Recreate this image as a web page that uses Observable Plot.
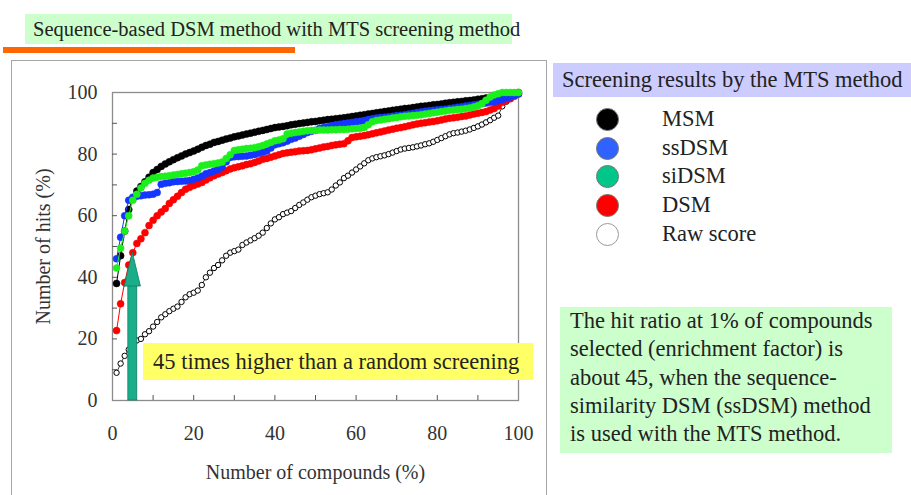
<!DOCTYPE html>
<html><head><meta charset="utf-8">
<script src="https://cdn.jsdelivr.net/npm/d3@7"></script>
<script src="https://cdn.jsdelivr.net/npm/@observablehq/plot@0.6"></script>
<style>
body{margin:0;background:#fff;font-family:'Liberation Serif','Tinos','Times New Roman','DejaVu Serif',serif;color:#222;}
#root{position:relative;width:911px;height:495px;overflow:hidden;background:#fff;}
.abs{position:absolute;}
#title{left:25px;top:14px;width:479px;height:30px;line-height:30px;background:#ccffcc;font-size:20.5px;padding-left:8px;white-space:nowrap;}
#bar{left:3px;top:47px;width:292px;height:6px;background:#ff6600;}
#frame{left:11px;top:60px;width:536px;height:450px;border:1.5px solid #a6a6a6;box-sizing:border-box;}
#chart{left:12px;top:61px;}
#note45{left:143px;top:343px;width:380px;height:37px;line-height:37px;background:#ffff66;font-size:22.5px;padding-left:10px;white-space:nowrap;}
#legHead{left:553px;top:63px;width:349px;height:34px;line-height:34px;background:#ccccff;font-size:22.5px;padding-left:9px;white-space:nowrap;}
#legend{left:590px;top:105px;}
.item{position:relative;height:28.7px;}
.sw{position:absolute;left:6px;top:3px;width:21px;height:21px;border-radius:50%;border:1px solid #777;}
.lab{position:absolute;left:72px;top:0;line-height:28px;font-size:22.5px;white-space:nowrap;}
#textbox{left:560px;top:307px;width:322px;height:146px;background:#ccffcc;font-size:22.5px;line-height:28.3px;padding-left:10px;white-space:nowrap;}
</style></head>
<body><div id="root">
<div id="title" class="abs">Sequence-based DSM method with MTS screening method</div>
<div id="bar" class="abs"></div>
<div id="frame" class="abs"></div>
<div id="chart" class="abs"></div>
<div id="note45" class="abs">45 times higher than a random screening</div>
<div id="legHead" class="abs">Screening results by the MTS method</div>
<div id="legend" class="abs"></div>
<div id="textbox" class="abs">The hit ratio at 1% of compounds<br>selected (enrichment factor) is<br>about 45, when the sequence-<br>similarity DSM (ssDSM) method<br>is used with the MTS method.</div>
</div>
<script>
// x: percentage of compounds selected
const compoundsPct = d3.range(1, 101);

const msm = [38,47,55,62,65.5,68,69.5,71,72.5,74,75,76,76.8,77.5,78.2,78.8,79.4,80,80.5,81,
81.6,82.2,82.8,83.2,83.8,84.1,84.5,84.9,85.2,85.6,85.9,86.2,86.5,86.8,87.1,87.4,87.7,88,88.3,88.6,
88.8,89,89.2,89.5,89.7,89.9,90.1,90.3,90.5,90.6,90.8,91,91.2,91.3,91.5,91.6,91.8,92,92.2,92.4,
92.6,92.8,93,93.2,93.4,93.6,93.8,94,94.2,94.4,94.6,94.8,94.9,95.1,95.3,95.5,95.6,95.8,96,96.1,
96.3,96.5,96.7,96.8,97,97.1,97.3,97.4,97.6,97.8,98,98.2,98.4,98.6,98.8,99,99.2,99.5,99.7,100];

const ssdsm = [46,53,60,65,66,66.3,66.5,66.7,66.8,67,67.5,70.2,70.5,70.7,71,71.1,71.2,71.3,71.4,71.8,
72.2,72.8,73.6,74,74.5,75,75.8,77.5,78.9,79.1,79.2,79.3,79.4,79.6,79.9,80.3,80.6,81,82,83,
83.4,83.7,84.2,84.8,85.2,85.8,86.4,87,87.4,87.7,88.3,88.6,88.9,89.2,89.5,89.7,89.9,90.1,90.3,90.5,
90.7,90.9,91.2,91.5,91.7,91.9,92,92.1,92.3,92.5,92.6,92.8,93,93.2,93.5,93.7,93.9,94.1,94.2,94.4,
94.5,94.6,94.8,95,95.2,95.4,95.6,95.8,96,96.2,96.4,96.6,96.8,97,97.3,97.7,98.1,98.5,99,99.6];

const sidsm = [43,49.5,55,60,65,67,69,70.5,71.5,72.2,72.5,72.7,72.8,73,73.2,73.4,73.6,73.8,74,74.3,
74.8,76.2,76.5,76.7,76.9,77.1,77.4,78.6,79.8,81.2,81.4,81.6,81.8,81.9,82.1,82.4,82.8,83.3,83.8,84.3,
84.6,85,86.5,86.8,87,87.2,87.4,87.6,87.7,87.7,87.8,87.8,87.8,87.9,87.9,88,88,88.1,88.2,88.3,
88.4,88.6,89.5,90.5,90.9,91.1,91.3,91.5,91.7,91.9,92.1,92.3,92.4,92.5,92.6,92.8,93,93.2,93.4,93.6,
93.8,94,94.2,94.3,94.5,94.6,94.8,95,95.3,95.7,96.4,97.5,98.5,99.2,99.6,100,100,100,100,100];

const dsm = [22.7,31.4,38.3,44,48,51,52.5,54.5,56.8,58.5,60,61.2,62.3,64,65.2,66.3,67.5,68.6,69.2,69.8,
70.3,70.8,71.6,72.3,73,73.5,74,74.6,75.2,75.6,75.9,76.2,76.6,76.9,77.3,77.8,78.3,78.6,79,79.4,
79.8,80.2,80.4,80.6,80.8,81,81.1,81.2,81.4,81.7,82,82.3,82.5,82.8,83,83.2,83.4,84.3,85.4,85.6,
85.8,86,86.3,86.6,86.9,87.2,87.5,87.8,88.1,88.4,88.6,88.9,89.2,89.5,89.8,90,90.2,90.4,90.6,90.8,
91.1,91.4,91.6,91.8,92,92.2,92.4,92.7,93,93.3,93.5,93.8,94.3,94.8,95.6,96.8,97.4,98,98.8,99.5];

const rawScore = [9,12,14.5,16.5,18.5,19.5,20,21.5,22.5,24,25.5,27,28,29,29.8,30.5,32,33.5,34.5,35,
35.7,37.5,40,41.5,43,44,45.5,47,48,48.5,49,50.5,51.3,52,52.7,53.5,54.5,56,57.5,58.8,
59.5,60.5,61,61.5,62.5,63.5,64.3,65.2,66,66.5,67,67.3,67.6,68.5,69.8,70.8,72.2,73,74,75,
76,77,78,78.6,79,79.3,79.6,80,80.5,81,81.5,81.8,82,82.2,82.5,82.8,83.2,83.5,84,84.6,
85.2,85.8,86.4,86.8,87,87.3,87.6,88,88.5,89,89.6,90.3,91,91.8,92.5,95.5,97,98,99,100];

const seriesNames = ["MSM","ssDSM","siDSM","DSM","Raw score"];
const dotColors = {"MSM":"#000000","ssDSM":"#1436ff","siDSM":"#1cf01c","DSM":"#ff0000","Raw score":"#ffffff"};
const legendColors = {"MSM":"#000000","ssDSM":"#2f62ff","siDSM":"#00c68a","DSM":"#ff0000","Raw score":"#ffffff"};
const xTicksMajor = [0,20,40,60,80,100];
const xTicksMinor = [10,20,30,40,50,60,70,80,90];
const yTicksMajor = [0,20,40,60,80,100];
const yTicksMinor = [10,20,30,40,50,60,70,80,90];

// annotation arrow (at 5% of compounds, reaching the ~48% hit level)
const arrowX = 5, arrowBase = 37, arrowTip = 48, shaftHalf = 1.1, headHalf = 2;

const valuesBy = {"MSM":msm,"ssDSM":ssdsm,"siDSM":sidsm,"DSM":dsm,"Raw score":rawScore};
const rows = [];
for (const s of seriesNames) valuesBy[s].forEach((v,i) => rows.push({series:s, x:compoundsPct[i], y:v}));
const drawOrder = ["Raw score","DSM","MSM","ssDSM","siDSM"];

const FONT = "'Liberation Serif','Tinos','Times New Roman','DejaVu Serif',serif";
const marks = [
  Plot.frame({stroke:"#8c8c8c", strokeWidth:1.3}),
  Plot.axisX({ticks:xTicksMinor, tickSize:-5, tickFormat:()=>"", label:null, stroke:"#555"}),
  Plot.axisY({ticks:yTicksMinor, tickSize:-5, tickFormat:()=>"", label:null, stroke:"#555"}),
  Plot.axisX({ticks:xTicksMajor, tickSize:0, tickPadding:25, label:"Number of compounds (%)", labelAnchor:"center", labelOffset:78, labelArrow:"none"}),
  Plot.axisY({ticks:yTicksMajor, tickSize:0, tickPadding:15, label:"Number of hits (%)", labelAnchor:"center", labelOffset:77, labelArrow:"none"})
];
for (const s of drawOrder) {
  const d = rows.filter(r => r.series === s);
  if (s === "Raw score") {
    marks.push(Plot.line(d, {x:"x", y:"y", stroke:"#000", strokeWidth:0.8}));
    marks.push(Plot.dot(d, {x:"x", y:"y", r:2.7, fill:"#fff", stroke:"#000", strokeWidth:1}));
  } else {
    marks.push(Plot.line(d, {x:"x", y:"y", stroke:dotColors[s], strokeWidth:1}));
    marks.push(Plot.dot(d, {x:"x", y:"y", r:3.5, fill:dotColors[s], stroke:dotColors[s], strokeWidth:0.5}));
  }
}
// block arrow: shaft + head
marks.push(Plot.rect([{x:arrowX}], {x1:d=>d.x-shaftHalf, x2:d=>d.x+shaftHalf, y1:0, y2:arrowBase+0.5, fill:"#1aad8a", stroke:"#0f7c62", strokeWidth:0.8}));
const head = [{x:arrowX-headHalf, y:arrowBase},{x:arrowX, y:arrowTip},{x:arrowX+headHalf, y:arrowBase}];
marks.push(Plot.areaY(head, {x:"x", y1:arrowBase, y2:"y", fill:"#1aad8a", stroke:"#0f7c62", strokeWidth:0.8}));

const chart = Plot.plot({
  width:536, height:434,
  marginLeft:100, marginRight:30, marginTop:31, marginBottom:95,
  x:{domain:[0,100]}, y:{domain:[0,100]},
  style:{fontFamily:FONT, fontSize:"20px", color:"#333", background:"transparent", overflow:"visible"},
  marks
});
document.getElementById("chart").appendChild(chart);

// legend
const leg = document.getElementById("legend");
for (const s of seriesNames) {
  const it = document.createElement("div"); it.className = "item";
  const sw = document.createElement("div"); sw.className = "sw"; sw.style.background = legendColors[s];
  if (s === "Raw score") sw.style.borderColor = "#999";
  const lb = document.createElement("div"); lb.className = "lab"; lb.textContent = s;
  it.appendChild(sw); it.appendChild(lb); leg.appendChild(it);
}
</script>
</body></html>
